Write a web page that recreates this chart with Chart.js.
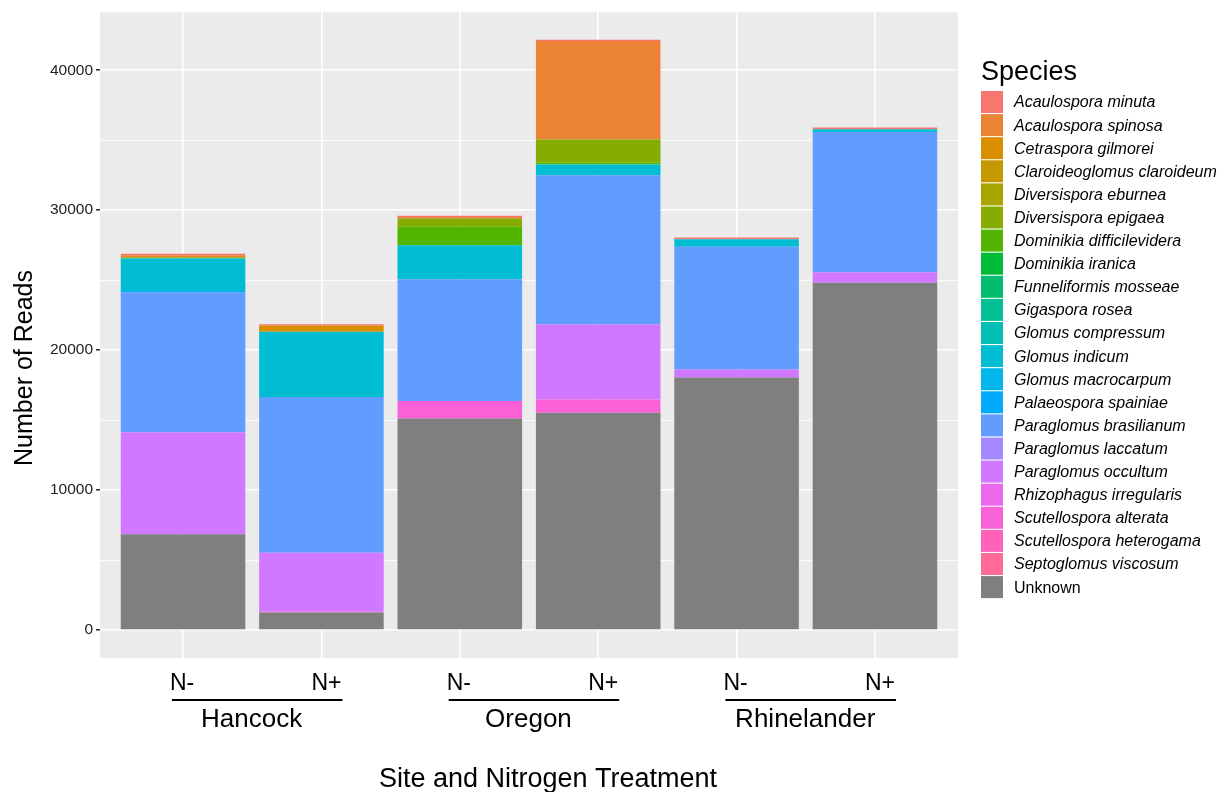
<!DOCTYPE html>
<html>
<head>
<meta charset="utf-8">
<title>Species reads by site and nitrogen treatment</title>
<script src="https://cdn.jsdelivr.net/npm/chart.js@4.4.1/dist/chart.umd.min.js"></script>
<style>
  html, body { margin: 0; padding: 0; background: #fff; }
  canvas { display: block; }
</style>
</head>
<body>
<canvas id="myChart" width="1220" height="792"></canvas>
<script>
// Категории: участок и обработка азотом
const sites = ['Hancock', 'Oregon', 'Rhinelander'];
const treatments = ['N-', 'N+'];
const yTicks = [0, 10000, 20000, 30000, 40000];

// Виды (порядок легенды)
const species = [
    'Acaulospora minuta', 'Acaulospora spinosa', 'Cetraspora gilmorei',
    'Claroideoglomus claroideum', 'Diversispora eburnea', 'Diversispora epigaea',
    'Dominikia difficilevidera', 'Dominikia iranica', 'Funneliformis mosseae',
    'Gigaspora rosea', 'Glomus compressum', 'Glomus indicum', 'Glomus macrocarpum',
    'Palaeospora spainiae', 'Paraglomus brasilianum', 'Paraglomus laccatum',
    'Paraglomus occultum', 'Rhizophagus irregularis', 'Scutellospora alterata',
    'Scutellospora heterogama', 'Septoglomus viscosum', 'Unknown'
];

// Число прочтений: Hancock N-, Hancock N+, Oregon N-, Oregon N+, Rhinelander N-, Rhinelander N+
const acaulosporaMinuta       = [110, 70, 90, 95, 119, 119];
const acaulosporaSpinosa      = [150, 60, 100, 7047, 0, 0];
const cetrasporaGilmorei      = [0, 400, 0, 0, 0, 0];
const claroideoglomus         = [0, 0, 0, 0, 0, 0];
const diversisporaEburnea     = [0, 0, 0, 0, 0, 0];
const diversisporaEpigaea     = [80, 0, 595, 1640, 0, 0];
const dominikiaDifficilevidera = [0, 0, 1310, 150, 0, 0];
const dominikiaIranica        = [0, 0, 0, 0, 0, 0];
const funneliformisMosseae    = [0, 0, 0, 0, 0, 0];
const gigasporaRosea          = [0, 0, 0, 0, 0, 0];
const glomusCompressum        = [0, 0, 0, 0, 0, 0];
const glomusIndicum           = [2336, 4667, 2429, 762, 548, 191];
const glomusMacrocarpum       = [0, 0, 0, 0, 0, 0];
const palaeosporaSpainiae     = [80, 0, 0, 0, 0, 0];
const paraglomusBrasilianum   = [10000, 11120, 8714, 10643, 8762, 10024];
const paraglomusLaccatum      = [0, 0, 0, 0, 0, 0];
const paraglomusOccultum      = [7290, 4220, 0, 5381, 571, 761];
const rhizophagusIrregularis  = [0, 0, 0, 0, 0, 0];
const scutellosporaAlterata   = [0, 50, 1240, 952, 0, 0];
const scutellosporaHeterogama = [0, 0, 0, 0, 0, 0];
const septoglomusViscosum     = [0, 0, 0, 0, 0, 0];
const unknown                 = [6850, 1260, 15120, 15520, 18050, 24810];

const counts = [
    acaulosporaMinuta, acaulosporaSpinosa, cetrasporaGilmorei, claroideoglomus,
    diversisporaEburnea, diversisporaEpigaea, dominikiaDifficilevidera, dominikiaIranica,
    funneliformisMosseae, gigasporaRosea, glomusCompressum, glomusIndicum,
    glomusMacrocarpum, palaeosporaSpainiae, paraglomusBrasilianum, paraglomusLaccatum,
    paraglomusOccultum, rhizophagusIrregularis, scutellosporaAlterata,
    scutellosporaHeterogama, septoglomusViscosum, unknown
];

const FONT = '"Liberation Sans", Arial, Helvetica, sans-serif';

// Палитра как в ggplot (hcl, c=100, l=65)
function hcl(h, c, l) {
    const Xn = 95.047, Yn = 100, Zn = 108.883;
    const hr = h * Math.PI / 180;
    const U = c * Math.cos(hr), V = c * Math.sin(hr);
    const Y = l > 8 ? Yn * Math.pow((l + 16) / 116, 3) : Yn * l / 903.3;
    const den = Xn + 15 * Yn + 3 * Zn;
    const u = U / (13 * l) + 4 * Xn / den;
    const v = V / (13 * l) + 9 * Yn / den;
    const X = 9 * Y * u / (4 * v);
    const Z = -X / 3 - 5 * Y + 3 * Y / v;
    const lin = [
        (3.240479 * X - 1.537150 * Y - 0.498535 * Z) / 100,
        (-0.969256 * X + 1.875992 * Y + 0.041556 * Z) / 100,
        (0.055648 * X - 0.204043 * Y + 1.057311 * Z) / 100
    ];
    return '#' + lin.map(function(t) {
        t = t <= 0.0031308 ? 12.92 * t : 1.055 * Math.pow(t, 1 / 2.4) - 0.055;
        t = Math.round(Math.min(1, Math.max(0, t)) * 255);
        return t.toString(16).padStart(2, '0');
    }).join('');
}

const nHue = species.length - 1;
const colors = species.map(function(name, i) {
    if (name === 'Unknown') return '#7F7F7F';
    return hcl(15 + 360 * i / nHue, 100, 65);
});

// Наборы данных: первый вид рисуется сверху, поэтому порядок обратный
const datasets = [];
for (let i = species.length - 1; i >= 0; i--) {
    datasets.push({
        label: species[i],
        data: counts[i].map(function(v, j) { return { x: j, y: v }; }),
        backgroundColor: colors[i],
        borderWidth: 0,
        categoryPercentage: 1,
        barPercentage: 0.9
    });
}

// Подписи оси X, заголовки и легенда
const annotations = {
    id: 'annotations',
    beforeDraw(chart) {
        const {ctx, chartArea: a} = chart;
        ctx.save();
        ctx.fillStyle = '#EBEBEB';
        ctx.fillRect(a.left, a.top, a.right - a.left, a.bottom - a.top);
        ctx.restore();
    },
    afterDraw(chart) {
        const ctx = chart.ctx;
        const xs = chart.scales.x;
        ctx.save();
        ctx.fillStyle = '#000';
        ctx.strokeStyle = '#000';

        // N- / N+ и названия участков
        sites.forEach(function(site, s) {
            const xl = xs.getPixelForValue(2 * s) - 1;
            const xr = xs.getPixelForValue(2 * s + 1) + 5;
            ctx.font = '23px ' + FONT;
            ctx.textAlign = 'center';
            ctx.textBaseline = 'alphabetic';
            ctx.fillText(treatments[0], xl, 690);
            ctx.fillText(treatments[1], xr, 690);
            const x0 = xl - ctx.measureText(treatments[0]).width / 2;
            const x1 = xr + ctx.measureText(treatments[1]).width / 2;
            ctx.lineWidth = 2;
            ctx.beginPath();
            ctx.moveTo(x0 + 2, 700);
            ctx.lineTo(x1 + 1, 700);
            ctx.stroke();
            ctx.font = '26px ' + FONT;
            ctx.fillText(site, (x0 + x1) / 2 - 4, 727);
        });

        // Заголовок оси X
        ctx.font = '27px ' + FONT;
        ctx.textAlign = 'center';
        ctx.fillText('Site and Nitrogen Treatment', 548, 787);

        // Заголовок оси Y
        ctx.save();
        ctx.translate(25, 368);
        ctx.rotate(-Math.PI / 2);
        ctx.font = '25px ' + FONT;
        ctx.textBaseline = 'middle';
        ctx.fillText('Number of Reads', 0, 0);
        ctx.restore();

        // Легенда
        ctx.textAlign = 'left';
        ctx.textBaseline = 'alphabetic';
        ctx.font = '27px ' + FONT;
        ctx.fillText('Species', 981, 80);
        const step = 23.1;
        species.forEach(function(name, i) {
            const y = 91 + i * step;
            ctx.fillStyle = colors[i];
            ctx.fillRect(981, y, 22, 22);
            ctx.fillStyle = '#000';
            ctx.font = (name === 'Unknown' ? '' : 'italic ') + '16px ' + FONT;
            ctx.textBaseline = 'middle';
            ctx.fillText(name, 1014, y + 12);
        });
        ctx.restore();
    }
};

const chart = new Chart(document.getElementById('myChart').getContext('2d'), {
    type: 'bar',
    data: { datasets: datasets },
    options: {
        responsive: false,
        animation: false,
        layout: { padding: { left: 0, right: 262, top: 12, bottom: 0 } },
        plugins: {
            legend: { display: false },
            tooltip: { enabled: false }
        },
        scales: {
            x: {
                type: 'linear',
                min: -0.6,
                max: 5.6,
                offset: false,
                stacked: true,
                afterBuildTicks: function(scale) {
                    scale.ticks = [0, 1, 2, 3, 4, 5].map(function(v) { return { value: v }; });
                },
                afterFit: function(scale) { scale.height = 134; },
                ticks: { display: false },
                grid: { color: '#FFFFFF', lineWidth: 1.6, drawTicks: false, offset: false },
                border: { display: false }
            },
            y: {
                stacked: true,
                min: -2000,
                max: 44143,
                afterBuildTicks: function(scale) {
                    const t = [];
                    for (let v = 0; v <= 40000; v += 5000) t.push({ value: v });
                    scale.ticks = t;
                },
                afterFit: function(scale) { scale.width = 100; },
                ticks: {
                    autoSkip: false,
                    padding: 3,
                    color: '#222222',
                    font: { family: FONT, size: 15.5 },
                    callback: function(value) {
                        return yTicks.indexOf(value) >= 0 ? String(value) : '';
                    }
                },
                grid: {
                    color: '#FFFFFF',
                    lineWidth: function(c) { return c.tick && c.tick.value % 10000 === 0 ? 1.6 : 0.8; },
                    tickLength: 4,
                    tickColor: function(c) { return c.tick && c.tick.value % 10000 === 0 ? '#333333' : 'rgba(0,0,0,0)'; }
                },
                border: { display: false }
            }
        }
    },
    plugins: [annotations]
});
</script>
</body>
</html>
